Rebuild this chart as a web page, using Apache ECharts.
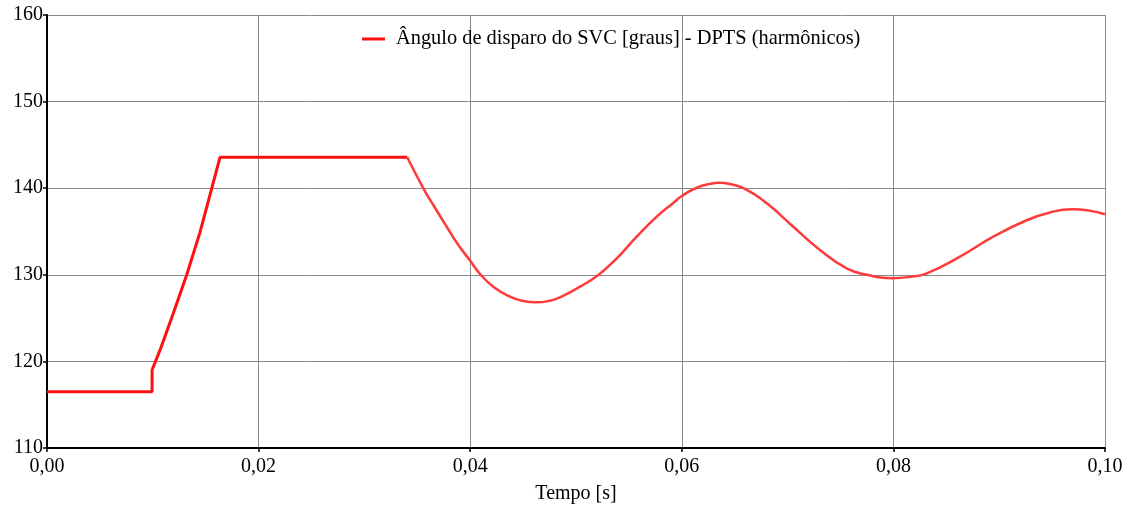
<!DOCTYPE html>
<html>
<head>
<meta charset="utf-8">
<script src="https://cdn.jsdelivr.net/npm/echarts@6/dist/echarts.min.js"></script>
<style>html,body{margin:0;padding:0;background:#fff}#c{width:1128px;height:506px}</style>
</head>
<body>
<div id="c"></div>
<script>
// Series name
const seriesName = 'Ângulo de disparo do SVC [graus] - DPTS (harmônicos)';
// Part 1: initial level, jump, rise, upper limit (time s, angle deg)
const t1 = [0, 0.00993, 0.00993, 0.01068, 0.01194, 0.0132, 0.01446, 0.01557, 0.01635, 0.03405];
const v1 = [116.5, 116.5, 119.0, 121.3, 125.55, 129.98, 134.9, 139.99, 143.57, 143.57];
// Part 2: damped oscillation after leaving the limit
const t2 = [0.03405, 0.03557, 0.03651, 0.03778, 0.03888, 0.03995, 0.04093, 0.04218, 0.04376, 0.04502, 0.04622, 0.04754, 0.04849, 0.05038, 0.05211, 0.05385, 0.05574, 0.05763, 0.0592, 0.0600, 0.06141, 0.06267, 0.06361, 0.06456, 0.06582, 0.06803, 0.07054, 0.07306, 0.07558, 0.0775, 0.07984, 0.0815, 0.08315, 0.08629, 0.08944, 0.0926, 0.0948, 0.09685, 0.0985, 0.1000];
const v2 = [143.57, 139.99, 138.06, 135.55, 133.44, 131.71, 130.09, 128.63, 127.47, 126.97, 126.82, 127.01, 127.4, 128.63, 129.98, 131.9, 134.4, 136.71, 138.3, 139.1, 140.05, 140.5, 140.63, 140.48, 140.0, 138.25, 135.55, 132.86, 130.75, 130.0, 129.6, 129.75, 130.17, 132.1, 134.4, 136.3, 137.2, 137.56, 137.41, 137.0];
// Axis ticks
const xMin = 0, xMax = 0.10, xStep = 0.02;
const yMin = 110, yMax = 160, yStep = 10;
const xName = 'Tempo [s]';

const font = '"Liberation Serif","Times New Roman",serif';
const chart = echarts.init(document.getElementById('c'), null, {renderer: 'canvas'});
const lineColor = '#ff1010';
const curveColor = '#ff3a3a';
chart.setOption({
  animation: false,
  backgroundColor: '#ffffff',
  grid: {left: 47, right: 23, top: 15, bottom: 58, containLabel: false, outerBoundsMode: 'none'},
  legend: {
    left: 362, top: 29, padding: 0,
    itemWidth: 23, itemHeight: 3, itemGap: 10,
    textStyle: {fontFamily: font, fontSize: 20.4, color: '#000', padding: [0,0,0,6]},
    data: [{name: seriesName, icon: 'rect', itemStyle: {color: lineColor}}]
  },
  xAxis: {
    type: 'value', min: xMin, max: xMax, interval: xStep,
    name: xName, nameLocation: 'middle', nameGap: 36,
    nameTextStyle: {fontFamily: font, fontSize: 20, color: '#000'},
    axisLine: {show: true, onZero: false, lineStyle: {color: '#000', width: 2}},
    axisTick: {show: true, length: 4, lineStyle: {color: '#000', width: 1.5}},
    axisLabel: {fontFamily: font, fontSize: 20, color: '#000', margin: 9,
      formatter: v => v.toFixed(2).replace('.', ',')},
    splitLine: {show: true, lineStyle: {color: '#8a8a8a', width: 1}}
  },
  yAxis: {
    type: 'value', min: yMin, max: yMax, interval: yStep,
    axisLine: {show: true, onZero: false, lineStyle: {color: '#000', width: 2}},
    axisTick: {show: true, length: 4, lineStyle: {color: '#000', width: 1.5}},
    axisLabel: {fontFamily: font, fontSize: 20, color: '#000', margin: 4},
    splitLine: {show: true, lineStyle: {color: '#8a8a8a', width: 1}}
  },
  series: [
    {name: seriesName, type: 'line', symbol: 'none', smooth: false,
     lineStyle: {color: lineColor, width: 3}, itemStyle: {color: lineColor},
     data: t1.map((t, i) => [t, v1[i]])},
    {name: seriesName, type: 'line', symbol: 'none', smooth: 0.5,
     lineStyle: {color: curveColor, width: 2.5}, itemStyle: {color: curveColor},
     data: t2.map((t, i) => [t, v2[i]])}
  ]
});
</script>
</body>
</html>
